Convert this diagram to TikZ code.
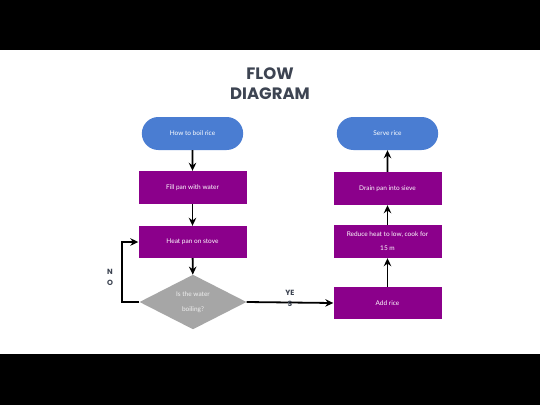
\documentclass[tikz,border=0pt]{standalone}
\usepackage{fontspec}
\setmainfont{Lato}
\newfontfamily\titlefont{Poppins}
\usetikzlibrary{shapes.geometric,shapes.misc,arrows.meta}
\definecolor{startblue}{RGB}{74,125,210}
\definecolor{steppurple}{RGB}{139,0,139}
\definecolor{askgray}{RGB}{166,166,166}
\definecolor{titlegray}{RGB}{61,68,82}
\tikzset{
  pill/.style={rounded rectangle, fill=startblue, text=white, minimum width=108pt, minimum height=33pt, font=\fontsize{6.5}{14}\selectfont},
  stepbox/.style={rectangle, fill=steppurple, text=white, minimum width=108pt, minimum height=33pt, align=center, font=\fontsize{6.5}{14}\selectfont},
  ask/.style={diamond, fill=askgray, text=white!88!gray, minimum width=107pt, minimum height=54pt, inner sep=0pt, align=center, font=\fontsize{6.5}{15}\selectfont},
  flow/.style={-{Stealth[length=8pt,width=7.5pt]}, black, line width=1.8pt},
  tag/.style={text=titlegray, font=\titlefont\bfseries\fontsize{7.5}{11}\selectfont, align=center}
}
\begin{document}
\begin{tikzpicture}[x=1pt,y=-1pt]
    \fill[black] (0,0) rectangle (540,405);
    \fill[white] (0,50) rectangle (540,354);
    \useasboundingbox (0,0) rectangle (540,405);
    % title
    \node[text=titlegray, font=\titlefont\bfseries\fontsize{16.5}{20}\selectfont, align=center] (title) at (270,84) {FLOW\\DIAGRAM};
    % left column
    \node[pill] (boil) at (192.5,133.5) {How to boil rice};
    \node[stepbox] (fill) at (192.5,187.5) {Fill pan with water};
    \node[stepbox, minimum height=32pt] (heat) at (192.5,242) {Heat pan on stove};
    \node[ask] (boiling) at (193,302) {Is the water\\boiling?};
    % right column
    \node[pill] (serve) at (387.5,133.5) {Serve rice};
    \node[stepbox] (drain) at (387.5,188.5) {Drain pan into sieve};
    \node[stepbox] (reduce) at (387.5,241.5) {Reduce heat to low, cook for\\15 m};
    \node[stepbox, minimum height=32pt] (add) at (387.5,303) {Add rice};
    % connectors
    \draw[flow] (boil) -- (fill);
    \draw[flow] (fill) -- (heat);
    \draw[flow] (heat) -- (boiling);
    \draw[flow] (boiling.east) -- (add.west);
    \coordinate (loop) at (122,302);
    \draw[flow] (boiling.west) -- (loop) |- (heat.west);
    \draw[flow] (add) -- (reduce);
    \draw[flow] (reduce) -- (drain);
    \draw[flow] (drain) -- (serve);
    % answers
    \node[tag] (yes) at (290,298) {YE\\S};
    \node[tag] (no) at (110,277.5) {N\\O};
\end{tikzpicture}
\end{document}
